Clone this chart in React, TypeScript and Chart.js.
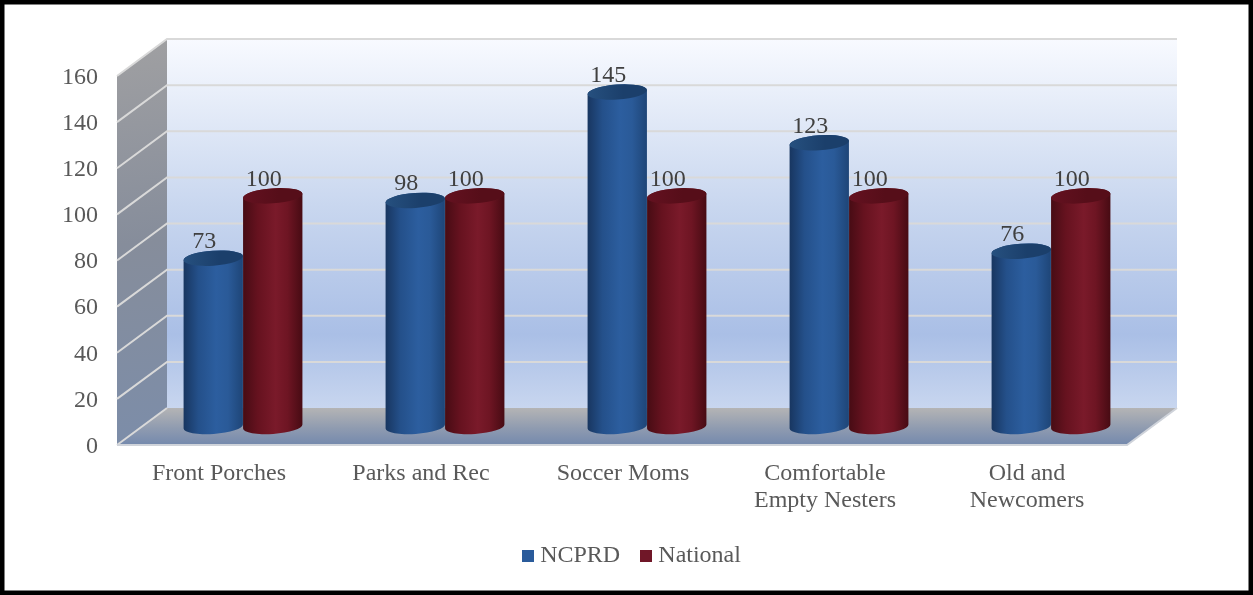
import React, { useEffect, useRef } from "react";
import { Chart, registerables } from "chart.js";

Chart.register(...registerables);

const categories: (string | string[])[] = [
  "Front Porches",
  "Parks and Rec",
  "Soccer Moms",
  ["Comfortable", "Empty Nesters"],
  ["Old and", "Newcomers"],
];
const ncprd = [73, 98, 145, 123, 76];
const national = [100, 100, 100, 100, 100];
const seriesNames = ["NCPRD", "National"];
const legendColors = ["#2a5b9b", "#701728"];

const FONT = "'Liberation Serif', 'Times New Roman', serif";
const DEPTH_X = 50;
const DEPTH_Y = 37;

const shades = [
  {
    stops: ["#183660", "#24508a", "#2c5e9f", "#2a5a98", "#1e4577"],
    cap: ["#26507f", "#1b3f6b"],
  },
  {
    stops: ["#470c14", "#66121f", "#7a1a2a", "#6e1523", "#470b13"],
    cap: ["#641120", "#560e19"],
  },
];

function swatch(color: string) {
  const c = document.createElement("canvas");
  c.width = 12;
  c.height = 12;
  const g = c.getContext("2d")!;
  g.fillStyle = color;
  g.fillRect(0, 0, 12, 12);
  return c;
}

// Room behind the bars: back wall, side wall, floor and the value lines.
const roomPlugin = {
  id: "room",
  afterLayout(chart: any) {
    // Legend is centred on the page plus a small offset, not on the plot.
    chart.legend.left += 66;
    chart.legend.right += 66;
  },
  beforeDatasetsDraw(chart: any) {
    const { ctx, chartArea: a, scales } = chart;
    const y = scales.y;
    const l = a.left, r = a.right, t = a.top, b = a.bottom;
    ctx.save();

    const wall = ctx.createLinearGradient(0, t - DEPTH_Y, 0, b - DEPTH_Y);
    wall.addColorStop(0, "#f8faff");
    wall.addColorStop(0.45, "#c9d7ef");
    wall.addColorStop(0.8, "#aabfe6");
    wall.addColorStop(1, "#c8d6ef");
    ctx.fillStyle = wall;
    ctx.fillRect(l + DEPTH_X, t - DEPTH_Y, r - l, b - t);

    const side = ctx.createLinearGradient(l, t - DEPTH_Y, l + DEPTH_X, b);
    side.addColorStop(0, "#a0a0a2");
    side.addColorStop(0.5, "#868d9b");
    side.addColorStop(1, "#7c8da9");
    ctx.fillStyle = side;
    ctx.beginPath();
    ctx.moveTo(l, t);
    ctx.lineTo(l + DEPTH_X, t - DEPTH_Y);
    ctx.lineTo(l + DEPTH_X, b - DEPTH_Y);
    ctx.lineTo(l, b);
    ctx.closePath();
    ctx.fill();

    const floor = ctx.createLinearGradient(0, b - DEPTH_Y, 0, b);
    floor.addColorStop(0, "#b4b4b5");
    floor.addColorStop(0.55, "#8f9bb0");
    floor.addColorStop(1, "#7489ad");
    ctx.fillStyle = floor;
    ctx.beginPath();
    ctx.moveTo(l + DEPTH_X, b - DEPTH_Y);
    ctx.lineTo(r + DEPTH_X, b - DEPTH_Y);
    ctx.lineTo(r, b);
    ctx.lineTo(l, b);
    ctx.closePath();
    ctx.fill();

    ctx.strokeStyle = "#d9d9d9";
    ctx.lineWidth = 2;
    for (const tick of y.ticks) {
      const py = y.getPixelForValue(tick.value);
      ctx.beginPath();
      ctx.moveTo(l, py);
      ctx.lineTo(l + DEPTH_X, py - DEPTH_Y);
      if (tick.value !== 0) ctx.lineTo(r + DEPTH_X, py - DEPTH_Y);
      ctx.stroke();
    }
    ctx.beginPath();
    ctx.moveTo(l, b);
    ctx.lineTo(r, b);
    ctx.lineTo(r + DEPTH_X, b - DEPTH_Y);
    ctx.strokeStyle = "#cfd3da";
    ctx.stroke();
    ctx.restore();
  },
  // Bars are shaded as cylinders, placed halfway into the room.
  beforeDatasetDraw(chart: any, args: any) {
    const { ctx } = chart;
    const shade = shades[args.index];
    const tilt = -0.07;
    ctx.save();
    for (const el of args.meta.data) {
      const cx = el.x + DEPTH_X / 2;
      const top = el.y - DEPTH_Y / 2;
      const bottom = el.base - DEPTH_Y / 2;
      const rx = el.width / 2;
      const ry = 7.5;

      const body = ctx.createLinearGradient(cx - rx, 0, cx + rx, 0);
      shade.stops.forEach((c: string, i: number) => body.addColorStop([0, 0.25, 0.55, 0.75, 1][i], c));
      ctx.fillStyle = body;
      ctx.beginPath();
      ctx.ellipse(cx, bottom, rx, ry, tilt, Math.PI, 0, true);
      ctx.ellipse(cx, top, rx, ry, tilt, 0, Math.PI, true);
      ctx.closePath();
      ctx.fill();

      const cap = ctx.createLinearGradient(cx - rx, 0, cx + rx, 0);
      cap.addColorStop(0, shade.cap[0]);
      cap.addColorStop(0.6, shade.cap[1]);
      cap.addColorStop(1, shade.cap[1]);
      ctx.fillStyle = cap;
      ctx.beginPath();
      ctx.ellipse(cx, top, rx, ry, tilt, 0, Math.PI * 2);
      ctx.fill();
    }
    ctx.restore();
    return false;
  },
  afterDatasetsDraw(chart: any) {
    const { ctx } = chart;
    ctx.save();
    ctx.font = `24px ${FONT}`;
    ctx.fillStyle = "#404040";
    ctx.textAlign = "center";
    ctx.textBaseline = "middle";
    chart.data.datasets.forEach((ds: any, i: number) => {
      chart.getDatasetMeta(i).data.forEach((el: any, j: number) => {
        ctx.fillText(String(ds.data[j]), el.x + DEPTH_X / 2 - 9, el.y - DEPTH_Y / 2 - 16.5);
      });
    });
    ctx.restore();
  },
  afterDraw(chart: any) {
    const { ctx, width, height } = chart;
    ctx.save();
    ctx.strokeStyle = "#000000";
    ctx.lineWidth = 4.5;
    ctx.strokeRect(2.25, 2.25, width - 4.5, height - 4.5);
    ctx.restore();
  },
};

export default function App() {
  const ref = useRef<HTMLCanvasElement>(null);

  useEffect(() => {
    document.body.style.margin = "0";
    document.body.style.overflow = "hidden";
    const swatches = legendColors.map(swatch);
    const chart = new Chart(ref.current!, {
      type: "bar",
      data: {
        labels: categories,
        datasets: [
          { label: seriesNames[0], data: ncprd, backgroundColor: legendColors[0] },
          { label: seriesNames[1], data: national, backgroundColor: legendColors[1] },
        ],
      },
      plugins: [roomPlugin],
      options: {
        animation: false,
        responsive: false,
        events: [],
        categoryPercentage: 0.589,
        barPercentage: 1,
        layout: { padding: { left: 10, right: 126, top: 76, bottom: 17.5 } },
        scales: {
          x: {
            grid: { display: false, drawTicks: false },
            border: { display: false },
            ticks: {
              font: { family: FONT, size: 24, lineHeight: 1.125 },
              color: "#595959",
              padding: 15,
              labelOffset: 1,
              maxRotation: 0,
              autoSkip: false,
            },
            afterFit(scale: any) {
              scale.height = 72.5;
            },
          },
          y: {
            min: 0,
            max: 160,
            grid: { display: false, drawTicks: false },
            border: { display: false },
            ticks: {
              stepSize: 20,
              font: { family: FONT, size: 24 },
              color: "#595959",
              padding: 19,
              labelOffset: 1.5,
            },
            afterFit(scale: any) {
              scale.width = 107;
            },
          },
        },
        plugins: {
          tooltip: { enabled: false },
          legend: {
            position: "bottom",
            labels: {
              font: { family: FONT, size: 24 },
              color: "#595959",
              usePointStyle: true,
              boxWidth: 0.1,
              boxHeight: 12,
              padding: 26,
              generateLabels(c: any) {
                return c.data.datasets.map((ds: any, i: number) => ({
                  text: ds.label,
                  fillStyle: legendColors[i],
                  strokeStyle: legendColors[i],
                  lineWidth: 0,
                  fontColor: "#595959",
                  pointStyle: swatches[i],
                  datasetIndex: i,
                  hidden: false,
                }));
              },
            },
          },
        },
      },
    } as any);
    return () => chart.destroy();
  }, []);

  return <canvas ref={ref} width={1253} height={595} style={{ display: "block" }} />;
}
